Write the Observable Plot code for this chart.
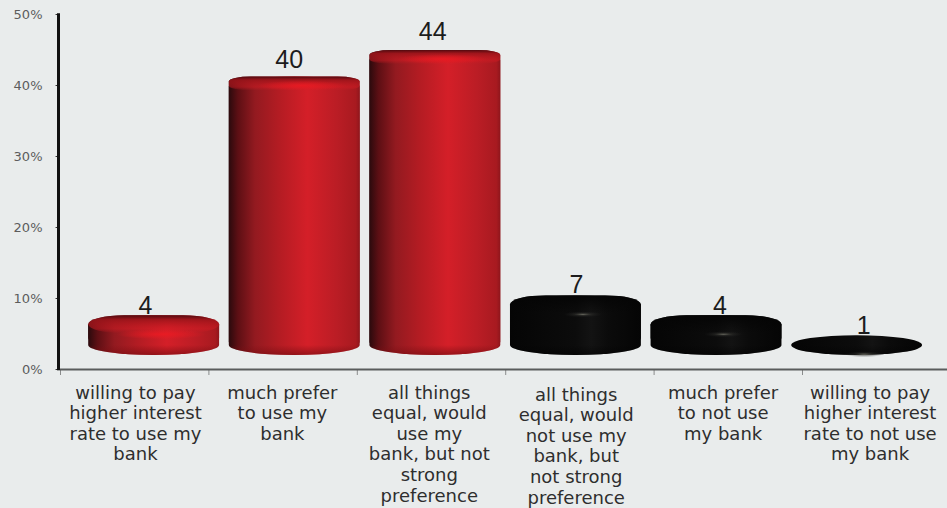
<!DOCTYPE html>
<html>
<head>
<meta charset="utf-8">
<script src="https://cdn.jsdelivr.net/npm/d3@7"></script>
<script src="https://cdn.jsdelivr.net/npm/@observablehq/plot@0.6"></script>
<style>
  html, body { margin: 0; padding: 0; background: #e9ecec; }
  svg { display: block; }
</style>
</head>
<body>
<div id="chart"></div>
<script>
const categories = [
  "willing to pay\nhigher interest\nrate to use my\nbank",
  "much prefer\nto use my\nbank",
  "all things\nequal, would\nuse my\nbank, but not\nstrong\npreference",
  "all things\nequal, would\nnot use my\nbank, but\nnot strong\npreference",
  "much prefer\nto not use\nmy bank",
  "willing to pay\nhigher interest\nrate to not use\nmy bank"
];
const values = [4, 40, 44, 7, 4, 1];
const sides = ["red", "red", "red", "black", "black", "black"];
const yTicks = [0, 10, 20, 30, 40, 50];
const xTicks = [0, 1, 2, 3, 4, 5];

const rows = values.map((value, i) => ({value, i, side: sides[i], label: categories[i]}));

// Oblique projection of the cylinders: the floor sits above the axis and
// heights are foreshortened, so everything is derived from each value.
const pxPerUnit = 355 / 50;
const px = (n) => n / pxPerUnit;
const floorY = px(14);
const topY = (v) => 3.83 + 0.934 * v;
const valueLabelY = (v) => 3.83 + 0.963 * v;
const barLeft = (i) => 0.19 + 0.9474 * i;
const barRight = (i) => barLeft(i) + 0.882;
const barMid = (i) => barLeft(i) + 0.441;
const isTall = (d) => d.value > 10;

const shade = (d, kind) => `url(#${d.side}-${kind})`;

function stops(sel, list) {
  list.forEach(([offset, color, opacity = 1]) =>
    sel.append("stop").attr("offset", offset).attr("stop-color", color).attr("stop-opacity", opacity));
}

function gradients() {
  const defs = d3.create("svg:defs");
  const linear = (id, x2, y2, list) =>
    stops(defs.append("linearGradient").attr("id", id).attr("x1", 0).attr("y1", 0).attr("x2", x2).attr("y2", y2), list);
  const radial = (id, list) => stops(defs.append("radialGradient").attr("id", id), list);
  linear("red-body", 1, 0, [
    [0, "#2b0a0d"], [0.07, "#5d0f14"], [0.2, "#931a20"], [0.38, "#b31c23"],
    [0.6, "#d41f28"], [0.82, "#bb1d25"], [0.97, "#a81a20"], [1, "#8f161c"]
  ]);
  linear("black-body", 1, 0, [
    [0, "#050505"], [0.5, "#0c0c0c"], [0.62, "#131313"], [0.75, "#0b0b0b"], [1, "#050505"]
  ]);
  linear("red-cap", 0, 1, [
    [0, "#4c090e", 0.95], [0.25, "#9c141a", 0.85], [0.75, "#d01b23", 0.5], [1, "#d01b23", 0]
  ]);
  linear("black-cap", 0, 1, [[0, "#050505", 1], [1, "#050505", 0]]);
  linear("red-foot", 0, 1, [[0, "#7c0e13", 0], [0.5, "#7c0e13", 0], [1, "#7c0e13", 0.7]]);
  linear("black-foot", 0, 1, [[0, "#030303", 0], [0.5, "#030303", 0], [1, "#030303", 0.6]]);
  radial("red-glint", [[0, "#ee1a22", 0.8], [1, "#ee1a22", 0]]);
  radial("black-glint", [[0, "#7a7a6e", 0.8], [0.45, "#343430", 0.45], [1, "#222", 0]]);
  return defs.node();
}

const tallBars = rows.filter(isTall);
const shortBars = rows.filter((d) => !isTall(d) && d.value > 1);
const footHeight = px(20);

// Upper body and top-edge shading; tall bars have tighter corners than low discs.
const upperMarks = (data, corners) => [
  Plot.rect(data, {
    x1: (d) => barLeft(d.i), x2: (d) => barRight(d.i), y1: floorY + px(8), y2: (d) => topY(d.value),
    fill: {value: (d) => shade(d, "body"), scale: null}, ...corners
  }),
  Plot.rect(data, {
    x1: (d) => barLeft(d.i), x2: (d) => barRight(d.i),
    y1: (d) => topY(d.value) - px(isTall(d) ? 14 : 18), y2: (d) => topY(d.value),
    fill: {value: (d) => shade(d, "cap"), scale: null}, ...corners
  })
];

const chart = Plot.plot({
  width: 947,
  height: 508,
  marginTop: 14,
  marginBottom: 139,
  marginLeft: 60,
  marginRight: 0,
  style: {background: "#e9ecec", overflow: "visible"},
  x: {domain: [0, 5.977], axis: null},
  y: {domain: [0, 50], axis: null},
  marks: [
    gradients,

    // Axes
    Plot.ruleX(xTicks, {y1: 0, y2: -px(6), stroke: "#8a8c8c", strokeWidth: 1}),
    Plot.ruleY([0], {x1: -0.02, x2: 5.977, stroke: "#5a5c5c", strokeWidth: 2}),
    Plot.ruleY(yTicks, {x1: -0.03, x2: -0.012, stroke: "#333", strokeWidth: 1}),
    Plot.ruleX([0], {y1: -px(1), y2: 50.1, dx: -2, stroke: "#111", strokeWidth: 3}),
    Plot.text(yTicks, {
      x: 0, y: (d) => d, text: (d) => `${d}%`, dx: -18, textAnchor: "end",
      fontFamily: "DejaVu Sans", fontSize: 13, fill: "#5c5c5c"
    }),

    // Value labels sit behind the cylinders
    Plot.text(rows, {
      x: (d) => 0.573 + 0.9677 * d.i, y: (d) => valueLabelY(d.value), text: (d) => `${d.value}`,
      dy: -1, lineAnchor: "bottom", fontFamily: "Liberation Sans", fontSize: 25, fill: "#1c1c1c"
    }),

    // Elliptical silhouette shared by every cylinder
    Plot.rect(rows, {
      x1: (d) => barLeft(d.i), x2: (d) => barRight(d.i), y1: floorY, y2: (d) => topY(d.value),
      fill: {value: (d) => shade(d, "body"), scale: null}, rx: 65, ry: 10
    }),
    ...upperMarks(tallBars, {rx: 22, ry: 5}),
    ...upperMarks(shortBars, {rx: 36, ry: 9}),

    // Darker lower rim, kept inside the elliptical base
    Plot.rect(rows, {
      x1: (d) => barLeft(d.i), x2: (d) => barRight(d.i),
      y1: floorY, y2: floorY + footHeight,
      fill: {value: (d) => shade(d, "foot"), scale: null}, rx: 65, ry: 10
    }),

    // Specular glint on the front of each cylinder
    Plot.rect(rows, {
      x1: (d) => barMid(d.i) - (d.side === "red" ? 0.3 : 0.13) + 0.05,
      x2: (d) => barMid(d.i) + (d.side === "red" ? 0.3 : 0.13) + 0.05,
      y1: (d) => topY(d.value) - px((isTall(d) ? 9 : 19) + (d.side === "red" ? 5 : 3)),
      y2: (d) => topY(d.value) - px((isTall(d) ? 9 : 19) - (d.side === "red" ? 5 : 3)),
      fill: {value: (d) => shade(d, "glint"), scale: null}
    }),

    // Category labels under the axis
    Plot.text(rows, {
      x: (d) => 0.505 + 0.99 * d.i,
      y: (d) => -px(d.i === 3 ? 16.5 : 14.5),
      text: "label",
      lineAnchor: "top",
      lineHeight: 1.145,
      fontFamily: "DejaVu Sans",
      fontSize: 18,
      fill: "#2e2e2e"
    })
  ]
});

document.getElementById("chart").append(chart);
</script>
</body>
</html>
